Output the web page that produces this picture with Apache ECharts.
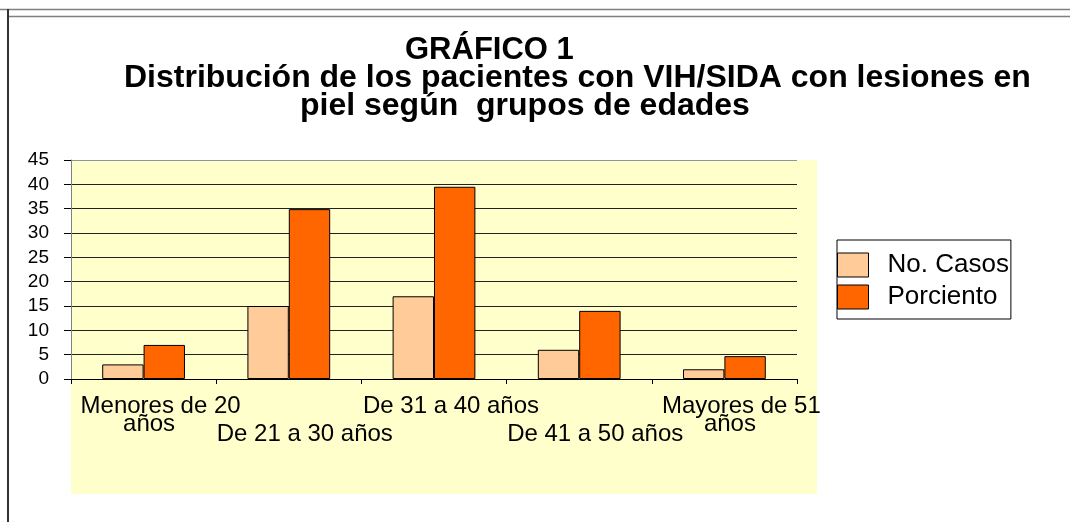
<!DOCTYPE html>
<html>
<head>
<meta charset="utf-8">
<script src="https://cdn.jsdelivr.net/npm/echarts@6/dist/echarts.min.js"></script>
<style>
html,body{margin:0;padding:0;background:#fff;}
#c{width:1070px;height:522px;}
</style>
</head>
<body>
<div id="c"></div>
<script>
// ---- data ----
var categories = ['Menores de 20\naños', 'De 21 a 30 años', 'De 31 a 40 años', 'De 41 a 50 años', 'Mayores de 51\naños'];
var seriesNames = ['No. Casos', 'Porciento'];
var casos = [3, 15, 17, 6, 2];
var porciento = [7.0, 34.9, 39.5, 14.0, 4.7];
var titleLines = ['GRÁFICO 1', 'Distribución de los pacientes con VIH/SIDA con lesiones en', 'piel según  grupos de edades'];
var yMin = 0, yMax = 45, yStep = 5;

var chart = echarts.init(document.getElementById('c'), null, {renderer: 'canvas'});
var FONT = "'Liberation Sans', Arial, sans-serif";

function titleItem(text, left, top, size) {
  return {
    text: text, left: left, top: top, padding: 0,
    textStyle: {fontFamily: FONT, fontWeight: 'bold', fontSize: size, lineHeight: size, color: '#000'}
  };
}

var option = {
  animation: false,
  backgroundColor: '#fff',
  title: [
    titleItem(titleLines[0], 405, 35, 31),
    titleItem(titleLines[1], 124, 62, 32),
    titleItem(titleLines[2], 300, 90, 32)
  ],
  graphic: [
    {type: 'rect', z: -10, silent: true, shape: {x: 71, y: 160, width: 746, height: 334}, style: {fill: '#FFFFCC'}},
    {type: 'line', z: 10, silent: true, shape: {x1: 0, y1: 9.5, x2: 1070, y2: 9.5}, style: {stroke: '#808080', lineWidth: 1.5}},
    {type: 'line', z: 10, silent: true, shape: {x1: 8, y1: 16.5, x2: 1070, y2: 16.5}, style: {stroke: '#808080', lineWidth: 1.5}},
    {type: 'line', z: 10, silent: true, shape: {x1: 8, y1: 9, x2: 8, y2: 522}, style: {stroke: '#333', lineWidth: 2}}
  ],
  legend: {
    orient: 'vertical',
    left: 837, top: 240,
    padding: [12, 2, 9, 0],
    itemWidth: 31, itemHeight: 24, itemGap: 6,
    borderColor: '#000', borderWidth: 1,
    backgroundColor: '#fff',
    icon: 'rect',
    itemStyle: {borderColor: '#000', borderWidth: 1},
    textStyle: {fontFamily: FONT, fontSize: 26, lineHeight: 12, color: '#000', padding: [0, 0, 8, 14]},
    data: seriesNames
  },
  grid: {left: 71, right: 273, top: 160, bottom: 143, containLabel: false},
  xAxis: {
    type: 'category',
    data: categories,
    axisLine: {lineStyle: {color: '#000', width: 1}},
    axisTick: {show: true, length: 5, lineStyle: {color: '#000'}, alignWithLabel: false},
    axisLabel: {
      interval: 0,
      margin: 19,
      color: '#000',
      fontFamily: FONT,
      fontSize: 24,
      formatter: function (v, i) {
        var parts = v.split('\n');
        if (i % 2 === 1) {
          return '{sp| }\n{b|' + parts[0] + '}';
        }
        var s = '{a|' + parts[0] + '}';
        if (parts[1]) s += '\n{c|' + parts[1] + '}';
        return s;
      },
      rich: {
        sp: {fontSize: 10, lineHeight: 28},
        a: {fontFamily: FONT, fontSize: 24, lineHeight: 16, color: '#000', padding: [0, 0, 0, 34]},
        b: {fontFamily: FONT, fontSize: 24, lineHeight: 16, color: '#000', padding: [0, 0, 0, 32]},
        c: {fontFamily: FONT, fontSize: 24, lineHeight: 20, color: '#000', padding: [0, 0, 0, 11]}
      }
    },
    splitLine: {show: false}
  },
  yAxis: {
    type: 'value',
    min: yMin, max: yMax, interval: yStep,
    axisLine: {show: true, lineStyle: {color: '#808080', width: 1}},
    axisTick: {show: true, length: 7, lineStyle: {color: '#000'}},
    axisLabel: {margin: 22, color: '#000', fontFamily: FONT, fontSize: 19},
    splitLine: {show: true, lineStyle: {color: ['#222', '#222', '#222', '#222', '#222', '#222', '#222', '#222', '#222', '#8a9a9a'], width: 1}}
  },
  series: [
    {
      name: seriesNames[0], type: 'bar', data: casos,
      barGap: '0%', barCategoryGap: '43%',
      itemStyle: {color: '#FFCC99', borderColor: '#000', borderWidth: 1}
    },
    {
      name: seriesNames[1], type: 'bar', data: porciento,
      barGap: '0%', barCategoryGap: '43%',
      itemStyle: {color: '#FF6600', borderColor: '#000', borderWidth: 1}
    }
  ]
};
chart.setOption(option);
</script>
</body>
</html>
